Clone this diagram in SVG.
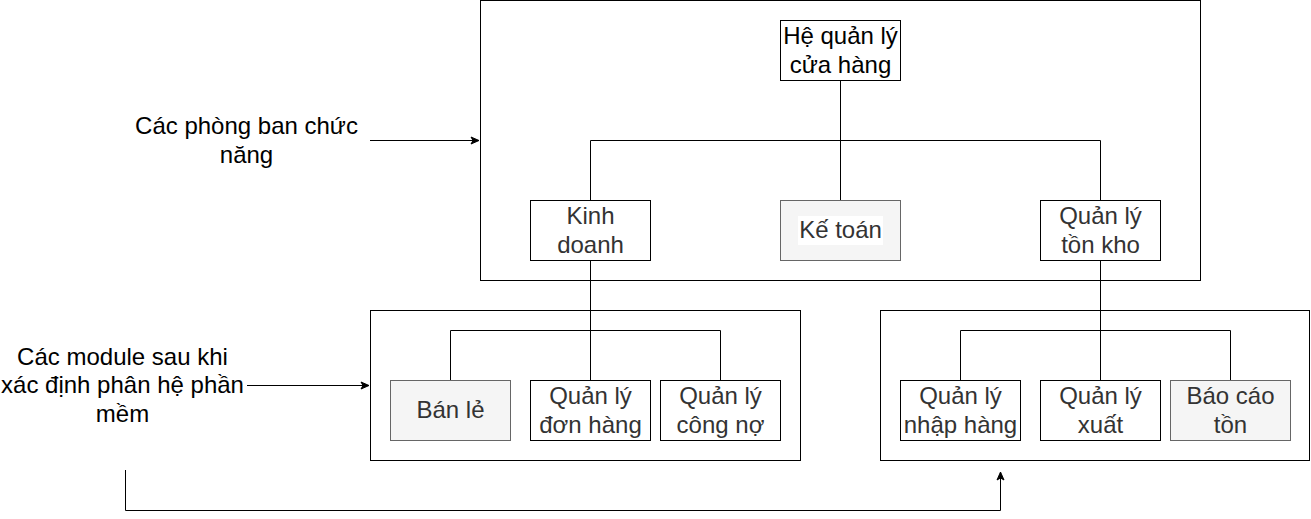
<svg xmlns="http://www.w3.org/2000/svg" width="1311" height="519" viewBox="0 0 1311 519">
<style>
.box{fill:#ffffff;stroke:#000000;stroke-width:1}
.grey{fill:#f5f5f5;stroke:#666666;stroke-width:1}
.t{font-family:"Liberation Sans",Arial,sans-serif;font-size:24px;text-anchor:middle}
.nt{fill:#333333}
.lt{fill:#000000}
.c{fill:none;stroke:#000000;stroke-width:1}
</style>
<defs>
<marker id="arr" markerWidth="10" markerHeight="10" refX="9" refY="5" orient="auto" markerUnits="userSpaceOnUse">
<path d="M1,1.5 L9,5 L1,8.5 L3,5 Z" fill="#000000" stroke="#000000" stroke-width="1"/>
</marker>
</defs>
<g id="container-top"><rect class="box" x="480.5" y="0.5" width="720" height="280"/></g>
<g id="container-left"><rect class="box" x="370.5" y="310.5" width="430" height="150"/></g>
<g id="container-right"><rect class="box" x="880.5" y="310.5" width="429" height="150"/></g>
<g id="connectors">
<path class="c" d="M840.5,80 V200"/>
<path class="c" d="M590.5,200 V140.5 H1100.5 V200"/>
<path class="c" d="M590.5,260 V380"/>
<path class="c" d="M450.5,380 V330.5 H720.5 V380"/>
<path class="c" d="M1100.5,260 V380"/>
<path class="c" d="M960.5,380 V330.5 H1230.5 V380"/>
<path class="c" d="M370,140.5 H479" marker-end="url(#arr)"/>
<path class="c" d="M247,385.5 H369" marker-end="url(#arr)"/>
<path class="c" d="M125.5,470 V510.5 H1000.5 V472" marker-end="url(#arr)"/>
</g>
<g id="node-he-quan-ly"><rect class="box" x="780.5" y="20.5" width="120" height="60"/><text class="t lt" x="840.5" y="44">Hệ quản lý</text><text class="t lt" x="840.5" y="72.8">cửa hàng</text></g>
<g id="node-kinh-doanh"><rect class="box" x="530.5" y="200.5" width="120" height="60"/><text class="t nt" x="590.5" y="224">Kinh</text><text class="t nt" x="590.5" y="252.8">doanh</text></g>
<g id="node-ke-toan"><rect class="grey" x="780.5" y="200.5" width="120" height="60"/><rect x="798" y="216" width="85" height="29" fill="#ffffff"/><text class="t nt" x="840.5" y="238.4">Kế toán</text></g>
<g id="node-ql-ton-kho"><rect class="box" x="1040.5" y="200.5" width="120" height="60"/><text class="t nt" x="1100.5" y="224">Quản lý</text><text class="t nt" x="1100.5" y="252.8">tồn kho</text></g>
<g id="node-ban-le"><rect class="grey" x="390.5" y="380.5" width="120" height="60"/><text class="t nt" x="450.5" y="418.4">Bán lẻ</text></g>
<g id="node-ql-don-hang"><rect class="box" x="530.5" y="380.5" width="120" height="60"/><text class="t nt" x="590.5" y="404">Quản lý</text><text class="t nt" x="590.5" y="432.8">đơn hàng</text></g>
<g id="node-ql-cong-no"><rect class="box" x="660.5" y="380.5" width="120" height="60"/><text class="t nt" x="720.5" y="404">Quản lý</text><text class="t nt" x="720.5" y="432.8">công nợ</text></g>
<g id="node-ql-nhap-hang"><rect class="box" x="900.5" y="380.5" width="120" height="60"/><text class="t nt" x="960.5" y="404">Quản lý</text><text class="t nt" x="960.5" y="432.8">nhập hàng</text></g>
<g id="node-ql-xuat"><rect class="box" x="1040.5" y="380.5" width="120" height="60"/><text class="t nt" x="1100.5" y="404">Quản lý</text><text class="t nt" x="1100.5" y="432.8">xuất</text></g>
<g id="node-bao-cao-ton"><rect class="grey" x="1170.5" y="380.5" width="120" height="60"/><text class="t nt" x="1230.5" y="404">Báo cáo</text><text class="t nt" x="1230.5" y="432.8">tồn</text></g>
<g id="label-phong-ban"><text class="t lt" x="246.5" y="134">Các phòng ban chức</text><text class="t lt" x="246.5" y="162.8">năng</text></g>
<g id="label-module"><text class="t lt" x="122.5" y="364.5">Các module sau khi</text><text class="t lt" x="122.5" y="393.3">xác định phân hệ phần</text><text class="t lt" x="122.5" y="422.1">mềm</text></g>
</svg>
